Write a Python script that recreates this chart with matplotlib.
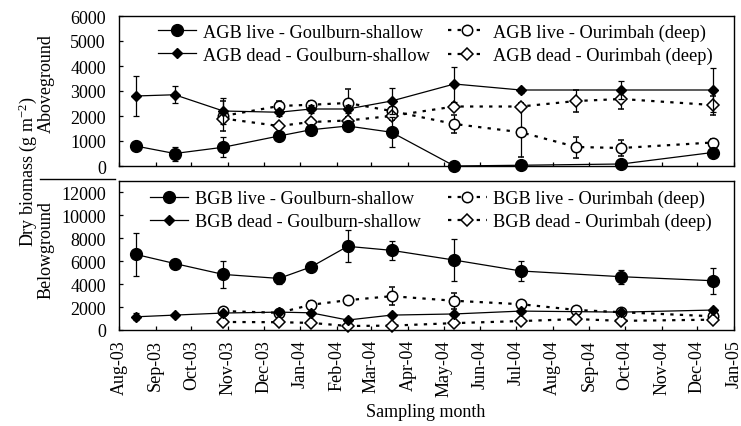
import matplotlib.pyplot as plt
import matplotlib.dates as mdates
from matplotlib.lines import Line2D
import pandas as pd

plt.rcParams["font.family"] = ["Liberation Serif", "DejaVu Serif"]
plt.rcParams["mathtext.default"] = "regular"

# Datas de amostragem
goulburn_dates = pd.to_datetime([
    "2003-08-15", "2003-09-17", "2003-10-28", "2003-12-14", "2004-01-10", "2004-02-10",
    "2004-03-18", "2004-05-10", "2004-07-05", "2004-09-28", "2004-12-14"])
ourimbah_dates = pd.to_datetime([
    "2003-10-28", "2003-12-14", "2004-01-10", "2004-02-10", "2004-03-18",
    "2004-05-10", "2004-07-05", "2004-08-21", "2004-09-28", "2004-12-14"])

# Aboveground (g m-2)
agb_live_goulburn = [800, 500, 750, 1200, 1450, 1600, 1350, 0, 30, 80, 540]
agb_live_goulburn_err = [120, 280, 400, 150, 120, 150, 600, 0, 0, 0, 80]
agb_dead_goulburn = [2800, 2850, 2200, 2150, 2280, 2280, 2600, 3280, 3040, 3040, 3040]
agb_dead_goulburn_err = [800, 340, 520, 150, 150, 150, 520, 700, 100, 350, 870]
agb_live_ourimbah = [2000, 2400, 2450, 2520, 2200, 1680, 1350, 760, 720, 940]
agb_live_ourimbah_err = [600, 200, 150, 560, 150, 350, 1000, 420, 330, 150]
agb_dead_ourimbah = [1900, 1600, 1760, 1820, 2000, 2380, 2380, 2600, 2680, 2440]
agb_dead_ourimbah_err = [150, 100, 100, 150, 150, 150, 150, 450, 400, 380]

# Belowground (g m-2)
bgb_live_goulburn = [6600, 5800, 4850, 4500, 5500, 7300, 6950, 6100, 5150, 4650, 4300]
bgb_live_goulburn_err = [1850, 200, 1200, 500, 200, 1400, 800, 1800, 900, 600, 1150]
bgb_dead_goulburn = [1150, 1300, 1480, 1560, 1500, 870, 1300, 1400, 1650, 1560, 1740]
bgb_dead_goulburn_err = [300, 150, 150, 150, 150, 150, 150, 150, 150, 150, 150]
bgb_live_ourimbah = [1650, 1500, 2200, 2600, 2950, 2550, 2250, 1750, 1550, 1200]
bgb_live_ourimbah_err = [250, 200, 300, 200, 800, 700, 200, 200, 200, 200]
bgb_dead_ourimbah = [700, 680, 620, 350, 380, 600, 780, 950, 800, 900]
bgb_dead_ourimbah_err = [150, 120, 120, 120, 120, 150, 150, 150, 150, 150]

fig = plt.figure(figsize=(7.41, 4.27), dpi=100)
ax1 = fig.add_axes([119 / 741, 1 - 167 / 427, 615 / 741, 150 / 427])
ax2 = fig.add_axes([119 / 741, 1 - 331 / 427, 615 / 741, 149 / 427])

solid = dict(color="black", lw=0.9, ecolor="black", elinewidth=0.9, capsize=2.5,
             capthick=0.9, clip_on=False, zorder=3)
dotted = dict(color="black", lw=1.6, ls=(0, (1.5, 2.8)), ecolor="black", elinewidth=0.9,
              capsize=2.5, capthick=0.9, clip_on=False, zorder=2)


def painel(ax, prefix, live_g, live_g_err, dead_g, dead_g_err, live_o, live_o_err, dead_o, dead_o_err):
    c3 = ax.errorbar(ourimbah_dates, live_o, yerr=live_o_err, marker="o", ms=7.5, mfc="white",
                     mec="black", mew=1.1, **dotted)
    c4 = ax.errorbar(ourimbah_dates, dead_o, yerr=dead_o_err, marker="D", ms=6, mfc="white",
                     mec="black", mew=1.1, **dotted)
    c1 = ax.errorbar(goulburn_dates, live_g, yerr=live_g_err, marker="o", ms=8.5, mfc="black",
                     mec="black", **solid)
    c2 = ax.errorbar(goulburn_dates, dead_g, yerr=dead_g_err, marker="D", ms=5.5, mfc="black",
                     mec="black", **solid)
    c1[0].set_label(f"{prefix} live - Goulburn-shallow")
    c2[0].set_label(f"{prefix} dead - Goulburn-shallow")
    c3[0].set_label(f"{prefix} live - Ourimbah (deep)")
    c4[0].set_label(f"{prefix} dead - Ourimbah (deep)")
    return [c1[0], c2[0], c3[0], c4[0]]


h1 = painel(ax1, "AGB", agb_live_goulburn, agb_live_goulburn_err, agb_dead_goulburn,
            agb_dead_goulburn_err, agb_live_ourimbah, agb_live_ourimbah_err,
            agb_dead_ourimbah, agb_dead_ourimbah_err)
h2 = painel(ax2, "BGB", bgb_live_goulburn, bgb_live_goulburn_err, bgb_dead_goulburn,
            bgb_dead_goulburn_err, bgb_live_ourimbah, bgb_live_ourimbah_err,
            bgb_dead_ourimbah, bgb_dead_ourimbah_err)

for ax in (ax1, ax2):
    ax.set_xlim(pd.Timestamp("2003-08-01"), pd.Timestamp("2005-01-01"))
    ax.xaxis.set_major_locator(mdates.MonthLocator())
    ax.xaxis.set_major_formatter(mdates.DateFormatter("%b-%y"))
    ax.tick_params(direction="in", length=3, width=0.9, labelsize=13, color="black")
    ax.tick_params(axis="y", pad=9.5)
    ax.tick_params(axis="x", pad=6.5)
    for s in ax.spines.values():
        s.set_linewidth(1.0)

ax1.set_ylim(0, 6000)
ax1.set_yticks(range(0, 6001, 1000))
ax1.tick_params(axis="x", labelbottom=False)
ax2.set_ylim(0, 13000)
ax2.set_yticks(range(0, 12001, 2000))
for lab in ax2.get_xticklabels():
    lab.set_rotation(90)

leg_kw = dict(ncol=2, frameon=False, fontsize=13.2, loc="upper left", borderpad=0,
              borderaxespad=0, handlelength=2.1, handletextpad=0.35, labelspacing=0.32)
ax1.legend(handles=h1, bbox_to_anchor=(0.063, 0.95), columnspacing=1.0, **leg_kw)
ax2.legend(handles=h2, bbox_to_anchor=(0.05, 0.94), columnspacing=1.5, **leg_kw)

fig.text(28 / 741, 1 - 172 / 427, "Dry biomass (g m$^{-2}$)", rotation=90,
         ha="center", va="center", fontsize=13)
fig.text(46 / 741, 1 - 84 / 427, "Aboveground", rotation=90, ha="center", va="center", fontsize=13)
fig.text(46 / 741, 1 - 250 / 427, "Belowground", rotation=90, ha="center", va="center", fontsize=13)
fig.add_artist(Line2D([40 / 741, 115 / 741], [1 - 180 / 427] * 2, transform=fig.transFigure,
                      color="black", lw=1.0))
fig.text(426 / 741, 1 - 413 / 427, "Sampling month", ha="center", va="center", fontsize=13)

fig.savefig("out.png", dpi=100)
